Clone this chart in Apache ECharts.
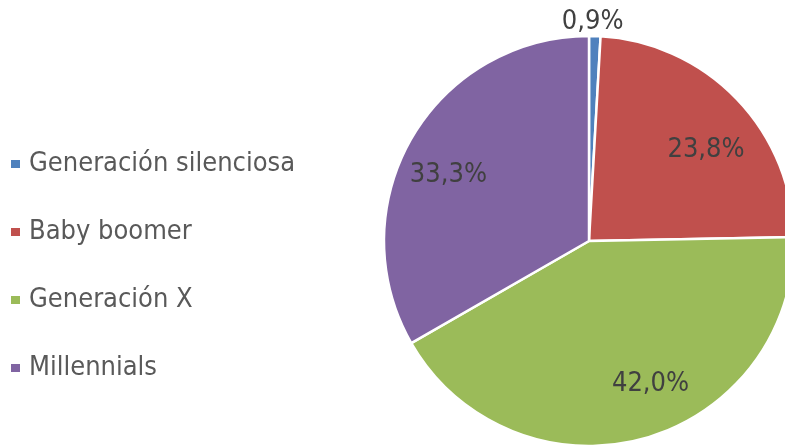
<!DOCTYPE html>
<html>
<head>
<meta charset="utf-8">
<script src="https://cdn.jsdelivr.net/npm/echarts@6/dist/echarts.min.js"></script>
<style>
  html, body { margin: 0; padding: 0; background: #fff; }
  #chart { width: 785px; height: 447px; }
</style>
</head>
<body>
<div id="chart"></div>
<script>
const categories = ['Generación silenciosa', 'Baby boomer', 'Generación X', 'Millennials'];
const shares = [0.9, 23.8, 42.0, 33.3];
const colors = ['#4F81BD', '#C0504D', '#9BBB59', '#8064A2'];
// nudges so the labels sit where the original put them
const labelShift = [[-38, -12], [5, 17], [20, -7], [-6, 12]];

const FONT = '"Liberation Sans Narrow", "DejaVu Sans Condensed", "Liberation Sans", sans-serif';
const fmt = (v) => v.toFixed(1).replace('.', ',') + '%';

const data = categories.map((name, i) => ({
  name: name,
  value: shares[i],
  label: { offset: labelShift[i] }
}));

const chart = echarts.init(document.getElementById('chart'));
chart.setOption({
  color: colors,
  animation: false,
  legend: {
    orient: 'vertical',
    left: 4,
    top: 144,
    icon: 'rect',
    itemWidth: 11,
    itemHeight: 10,
    itemGap: 38,
    textStyle: { fontFamily: FONT, fontSize: 27, color: '#595959', lineHeight: 30, padding: [0, 0, 0, 3] },
    data: categories
  },
  series: [
    {
      // visible pie, only the tiny slice gets its label outside
      type: 'pie',
      center: [589, 241],
      radius: [0, 205],
      startAngle: 90,
      clockwise: true,
      itemStyle: { borderColor: '#fff', borderWidth: 2.5 },
      label: {
        show: true,
        position: 'outside',
        formatter: (p) => (p.dataIndex === 0 ? fmt(p.value) : ''),
        fontFamily: FONT,
        fontSize: 27,
        color: '#404040'
      },
      labelLine: { show: false, length: 2, length2: 0 },
      emphasis: { disabled: true },
      data: data
    },
    {
      // transparent ring used to place the inner labels further out
      type: 'pie',
      silent: true,
      center: [589, 241],
      radius: [100, 205],
      startAngle: 90,
      clockwise: true,
      itemStyle: { color: 'rgba(0,0,0,0)' },
      label: {
        show: true,
        position: 'inside',
        formatter: (p) => (p.dataIndex === 0 ? '' : fmt(p.value)),
        fontFamily: FONT,
        fontSize: 27,
        color: '#404040'
      },
      labelLine: { show: false },
      emphasis: { disabled: true },
      data: data
    }
  ]
});
</script>
</body>
</html>
